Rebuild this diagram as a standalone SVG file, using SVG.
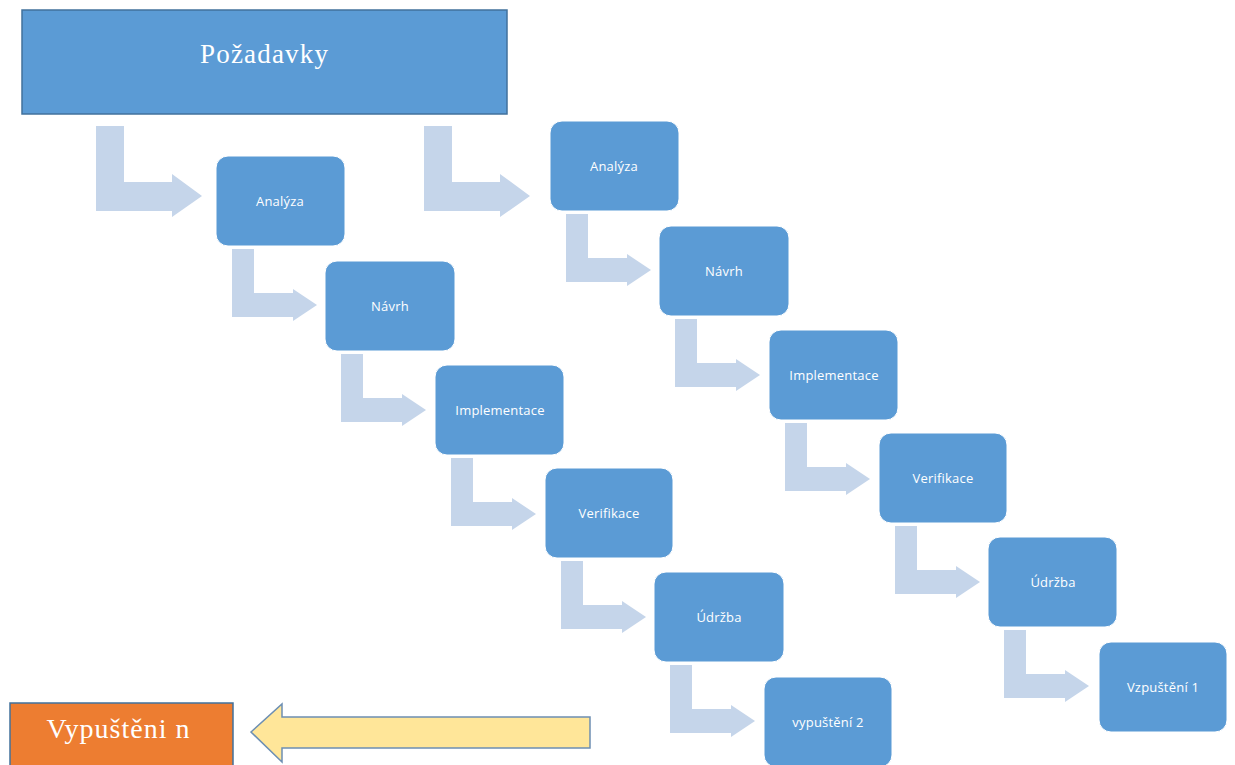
<svg xmlns="http://www.w3.org/2000/svg" width="1235" height="765" viewBox="0 0 1235 765">
<style>
.box{fill:#5b9bd5;stroke:#ffffff;stroke-width:1}
.lbl{font-family:"Open Sans","Liberation Sans",sans-serif;font-size:13px;fill:#ffffff;text-anchor:middle;letter-spacing:0.2px}
.big{font-family:"Liberation Serif",serif;fill:#ffffff;text-anchor:middle}
.flow{fill:#c5d5ea}
</style>
<defs>
<path id="sa" d="M0,0 H22 V44 H61 V40 L85,56 L61,72 V68 H0 Z"/>
<path id="ba" d="M0,0 H28 V56 H76 V48 L106,70 L76,91 V85 H0 Z"/>
</defs>
<rect width="1235" height="765" fill="#ffffff"/>
<g id="connectors" class="flow">
<use href="#ba" transform="translate(96,126)"/>
<use href="#ba" transform="translate(424,126)"/>
<use href="#sa" transform="translate(232,249)"/>
<use href="#sa" transform="translate(341,354)"/>
<use href="#sa" transform="translate(451,458)"/>
<use href="#sa" transform="translate(561,561)"/>
<use href="#sa" transform="translate(670,665)"/>
<use href="#sa" transform="translate(566,214)"/>
<use href="#sa" transform="translate(675,319)"/>
<use href="#sa" transform="translate(785,423)"/>
<use href="#sa" transform="translate(895,526)"/>
<use href="#sa" transform="translate(1004,630)"/>
<path d="M251,732 L282,704 V717 H590 V748 H282 V762 Z" fill="#ffe699" stroke="#6d8fb3" stroke-width="1.5"/>
</g>
<g id="pozadavky">
<rect x="22" y="10" width="485" height="104" fill="#5b9bd5" stroke="#41719c" stroke-width="1.5"/>
<text class="big" x="264" y="63" font-size="27" textLength="128" lengthAdjust="spacing">Požadavky</text>
</g>
<g id="vypusteni-n">
<rect x="10" y="703" width="223" height="64" fill="#ed7d31" stroke="#41719c" stroke-width="1.5"/>
<text class="big" x="118" y="738" font-size="28" textLength="143" lengthAdjust="spacing">Vypuštěni n</text>
</g>
<g id="l-analyza"><rect class="box" x="216" y="156" width="129" height="90" rx="12"/><text class="lbl" x="280" y="206">Analýza</text></g>
<g id="l-navrh"><rect class="box" x="325" y="261" width="130" height="90" rx="12"/><text class="lbl" x="390" y="311">Návrh</text></g>
<g id="l-implementace"><rect class="box" x="435" y="365" width="129" height="90" rx="12"/><text class="lbl" x="500" y="415">Implementace</text></g>
<g id="l-verifikace"><rect class="box" x="545" y="468" width="128" height="90" rx="12"/><text class="lbl" x="609" y="518">Verifikace</text></g>
<g id="l-udrzba"><rect class="box" x="654" y="572" width="130" height="90" rx="12"/><text class="lbl" x="719" y="622">Údržba</text></g>
<g id="l-vypusteni2"><rect class="box" x="764" y="677" width="128" height="90" rx="12"/><text class="lbl" x="828" y="727">vypuštění 2</text></g>
<g id="r-analyza"><rect class="box" x="550" y="121" width="129" height="90" rx="12"/><text class="lbl" x="614" y="171">Analýza</text></g>
<g id="r-navrh"><rect class="box" x="659" y="226" width="130" height="90" rx="12"/><text class="lbl" x="724" y="276">Návrh</text></g>
<g id="r-implementace"><rect class="box" x="769" y="330" width="129" height="90" rx="12"/><text class="lbl" x="834" y="380">Implementace</text></g>
<g id="r-verifikace"><rect class="box" x="879" y="433" width="128" height="90" rx="12"/><text class="lbl" x="943" y="483">Verifikace</text></g>
<g id="r-udrzba"><rect class="box" x="988" y="537" width="129" height="90" rx="12"/><text class="lbl" x="1053" y="587">Údržba</text></g>
<g id="r-vzpusteni1"><rect class="box" x="1099" y="642" width="128" height="90" rx="12"/><text class="lbl" x="1163" y="692">Vzpuštění 1</text></g>
</svg>
